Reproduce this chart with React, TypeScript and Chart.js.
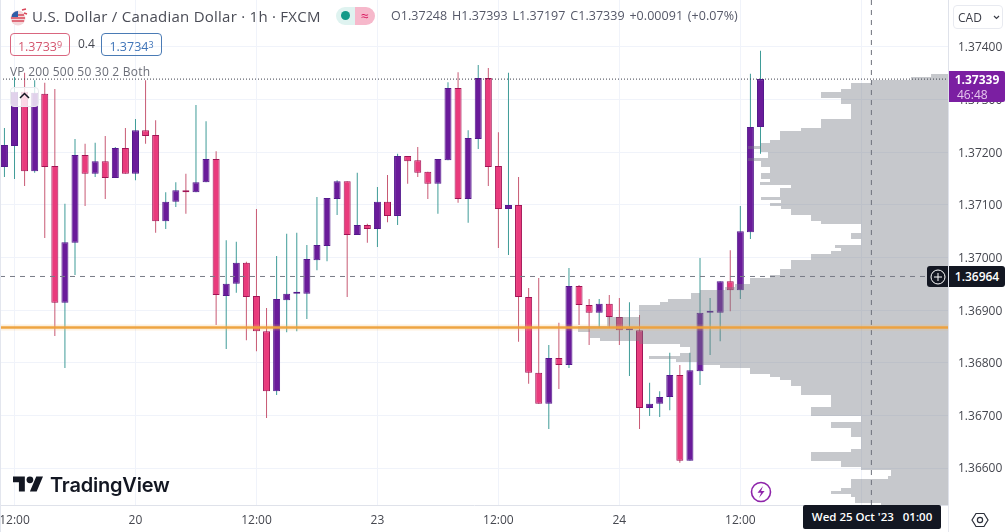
import React, { useEffect, useRef } from "react";
import { Chart, registerables } from "chart.js";

Chart.register(...registerables);

const opens = [1.37172,1.37212,1.37315,1.37164,1.37311,1.37174,1.36914,1.37028,1.37195,1.37159,1.37183,1.37151,1.37208,1.37159,1.37242,1.37233,1.37069,1.37106,1.37128,1.37124,1.37143,1.37187,1.36927,1.36950,1.36990,1.36927,1.36860,1.36746,1.36919,1.36931,1.36931,1.36995,1.37022,1.37111,1.37145,1.37043,1.37062,1.37054,1.37106,1.37079,1.37193,1.37185,1.37163,1.37140,1.37185,1.37322,1.37111,1.37225,1.37341,1.37174,1.37092,1.37100,1.36925,1.36781,1.36722,1.36809,1.36796,1.36946,1.36910,1.36895,1.36912,1.36887,1.36862,1.36862,1.36714,1.36722,1.36735,1.36777,1.36614,1.36784,1.36895,1.36895,1.36955,1.36938,1.37048,1.37248];
const highs = [1.37246,1.37343,1.37351,1.37337,1.37332,1.37320,1.37102,1.37225,1.37216,1.37218,1.37231,1.37210,1.37246,1.37263,1.37337,1.37261,1.37124,1.37143,1.37159,1.37290,1.37259,1.37202,1.37033,1.37030,1.36992,1.37092,1.36904,1.37003,1.37045,1.37047,1.37024,1.37115,1.37113,1.37147,1.37145,1.37161,1.37064,1.37134,1.37157,1.37197,1.37193,1.37210,1.37163,1.37187,1.37333,1.37352,1.37242,1.37366,1.37360,1.37238,1.37351,1.37153,1.36942,1.36961,1.36834,1.36876,1.36980,1.36948,1.36921,1.36921,1.36929,1.36923,1.36915,1.36891,1.36762,1.36746,1.36819,1.36796,1.36819,1.36999,1.36923,1.36955,1.37014,1.37098,1.37349,1.37393];
const lows = [1.37153,1.37149,1.37136,1.37161,1.37037,1.36851,1.36790,1.36967,1.37098,1.37153,1.37111,1.37151,1.37159,1.37147,1.37216,1.37047,1.37054,1.37096,1.37083,1.37124,1.37143,1.36872,1.36826,1.36933,1.36843,1.36822,1.36695,1.36739,1.36858,1.36860,1.36883,1.36976,1.36993,1.37081,1.36925,1.37043,1.37028,1.37020,1.37067,1.37062,1.37140,1.37153,1.37111,1.37083,1.37185,1.37104,1.37066,1.37206,1.37136,1.37018,1.37005,1.36840,1.36760,1.36722,1.36674,1.36750,1.36790,1.36872,1.36834,1.36866,1.36866,1.36834,1.36775,1.36674,1.36699,1.36697,1.36710,1.36610,1.36614,1.36758,1.36815,1.36841,1.36898,1.36921,1.37035,1.37197];
const closes = [1.37214,1.37315,1.37164,1.37313,1.37172,1.36914,1.37029,1.37195,1.37159,1.37183,1.37151,1.37208,1.37159,1.37242,1.37231,1.37069,1.37106,1.37128,1.37124,1.37143,1.37187,1.36929,1.36950,1.36990,1.36925,1.36860,1.36746,1.36921,1.36931,1.36932,1.36997,1.37024,1.37113,1.37145,1.37043,1.37062,1.37054,1.37106,1.37079,1.37193,1.37183,1.37161,1.37140,1.37187,1.37322,1.37111,1.37227,1.37341,1.37172,1.37092,1.37100,1.36925,1.36781,1.36722,1.36809,1.36796,1.36946,1.36910,1.36895,1.36912,1.36887,1.36862,1.36863,1.36714,1.36722,1.36735,1.36777,1.36614,1.36786,1.36895,1.36896,1.36955,1.36938,1.37050,1.37248,1.37339];

const profilePrices = [1.3734585,1.3734015,1.3733445,1.3732875,1.3732305,1.3731735,1.3731165,1.3730595,1.3730025,1.3729455,1.3728885,1.3728315,1.3727745,1.3727175,1.3726605,1.3726035,1.3725465,1.3724895,1.3724325,1.3723755,1.3723185,1.3722615,1.3722045,1.3721475,1.3720905,1.3720335,1.3719765,1.3719195,1.3718625,1.3718055,1.3717485,1.3716915,1.3716345,1.3715775,1.3715205,1.3714635,1.3714065,1.3713495,1.3712925,1.3712355,1.3711785,1.3711215,1.3710645,1.3710075,1.3709505,1.3708935,1.3708365,1.3707795,1.3707225,1.3706655,1.3706085,1.3705515,1.3704945,1.3704375,1.3703805,1.3703235,1.3702665,1.3702095,1.3701525,1.3700955,1.3700385,1.3699815,1.3699245,1.3698675,1.3698105,1.3697535,1.3696965,1.3696395,1.3695825,1.3695255,1.3694685,1.3694115,1.3693545,1.3692975,1.3692405,1.3691835,1.3691265,1.3690695,1.3690125,1.3689555,1.3688985,1.3688415,1.3687845,1.3687275,1.3686705,1.3686135,1.3685565,1.3684995,1.3684425,1.3683855,1.3683285,1.3682715,1.3682145,1.3681575,1.3681005,1.3680435,1.3679865,1.3679295,1.3678725,1.3678155,1.3677585,1.3677015,1.3676445,1.3675875,1.3675305,1.3674735,1.3674165,1.3673595,1.3673025,1.3672455,1.3671885,1.3671315,1.3670745,1.3670175,1.3669605,1.3669035,1.3668465,1.3667895,1.3667325,1.3666755,1.3666185,1.3665615,1.3665045,1.3664475,1.3663905,1.3663335,1.3662765,1.3662195,1.3661625,1.3661055,1.3660485,1.3659915,1.3659345,1.3658775,1.3658205,1.3657635,1.3657065,1.3656495,1.3655925,1.3655355,1.3654785,1.3654215,1.3653645,1.3653075];
const profileVolumes = [17,37,77,97,97,107,127,127,107,107,97,97,97,97,97,127,127,127,147,168,168,168,178,187,200,187,180,180,200,187,187,178,178,187,187,178,188,157,168,168,168,187,167,178,167,157,157,137,137,127,87,87,87,97,97,87,87,113,107,117,137,137,157,157,157,168,168,178,198,198,213,223,248,257,257,280,288,309,309,309,309,341,341,341,370,370,358,358,348,309,268,258,258,268,299,272,250,228,198,198,178,168,157,157,147,147,147,117,117,117,117,137,137,137,87,87,117,117,97,97,97,87,87,87,87,97,137,137,137,107,107,87,57,57,60,97,97,97,107,117,97,93,93,67];

const timeTickIndex = [1,13,25,37,49,61,73,85];
const timeTickLabels = ["12:00","20","12:00","23","12:00","24","12:00",""];
const priceTicks = [1.374,1.373,1.372,1.371,1.37,1.369,1.368,1.367,1.366];

const lastPrice = 1.37339;
const crossPrice = 1.36964;
const crossIndex = 86;
const levelPrice = 1.36867;
const priceMin = 1.365298;
const priceMax = 1.374893;
const indexMin = -0.44;
const indexMax = 93.6;

const FONT = '"Open Sans", "Noto Sans", sans-serif';

const abs = (x: number, y: number, extra: React.CSSProperties = {}): React.CSSProperties => ({
  position: "absolute", left: x, top: y, whiteSpace: "nowrap", fontFamily: FONT, ...extra,
});

const noPad = (s: any) => { s.paddingLeft = 0; s.paddingRight = 0; s.paddingTop = 0; s.paddingBottom = 0; };

export default function App() {
  const ref = useRef<HTMLCanvasElement | null>(null);
  useEffect(() => {
    if (!ref.current) return;
    const dir = closes.map((c, i) => c - opens[i]);
    const bodyFill = dir.map((d) => (Math.abs(d) <= 0.00001 ? "#20243a" : d >= 0 ? "#6a1b9a" : "#e93b7c"));
    const bodyEdge = dir.map((d) => (Math.abs(d) <= 0.00001 ? "#20243a" : d >= 0 ? "#531a8c" : "#a01455"));
    const wickFill = dir.map((d) => (d >= 0 ? "#3f9c98" : "#c85a74"));
    const span = (p: number) => [{ x: indexMin, y: p }, { x: indexMax, y: p }];
    const chart = new Chart(ref.current, {
      type: "bar",
      data: {
        datasets: [
          { type: "line", label: "level", data: span(levelPrice), borderColor: "rgba(238,160,58,0.95)", borderWidth: 2.6, pointRadius: 0, order: 0 },
          { type: "line", label: "level glow", data: span(levelPrice), borderColor: "rgba(245,185,100,0.22)", borderWidth: 6, pointRadius: 0, order: 1 },
          { type: "line", label: "cross x", data: [{ x: crossIndex, y: priceMin }, { x: crossIndex, y: priceMax }], borderColor: "#6f727d", borderWidth: 1, borderDash: [5, 5], pointRadius: 0, order: 2 },
          { type: "line", label: "cross y", data: span(crossPrice), borderColor: "#787b86", borderWidth: 1, borderDash: [5, 5], pointRadius: 0, order: 3 },
          { type: "line", label: "last", data: span(lastPrice), borderColor: "#3a3d48", borderWidth: 1, borderDash: [1, 2], pointRadius: 0, order: 4 },
          { type: "bar", label: "profile", indexAxis: "y", xAxisID: "xv", yAxisID: "y", grouped: false, inflateAmount: 0,
            data: profilePrices.map((p, i) => ({ x: profileVolumes[i], y: p })),
            backgroundColor: "rgba(120,123,134,0.42)", borderWidth: 0, barThickness: 3, order: 5 },
          { type: "bar", label: "body", grouped: false, inflateAmount: 0,
            data: opens.map((o, i) => ({ x: i, y: [o, closes[i]] })),
            backgroundColor: bodyFill, borderColor: bodyEdge, borderWidth: 1, borderSkipped: false, barThickness: 7, minBarLength: 2, order: 6 },
          { type: "bar", label: "wick", grouped: false, inflateAmount: 0,
            data: lows.map((l, i) => ({ x: i, y: [l, highs[i]] })),
            backgroundColor: wickFill, borderWidth: 0, barThickness: 1, order: 7 },
        ],
      } as any,
      options: {
        animation: false, responsive: false, events: [],
        layout: { padding: 0 },
        plugins: { legend: { display: false }, tooltip: { enabled: false } },
        scales: {
          x: {
            type: "linear", offset: false, min: indexMin, max: indexMax, position: "bottom",
            grid: { offset: false, color: "#f0f3fa", drawTicks: false, lineWidth: 1 },
            border: { color: "#dfe2ea" },
            afterBuildTicks: (s: any) => { s.ticks = timeTickIndex.map((v) => ({ value: v })); },
            afterFit: (s: any) => { s.height = 27; noPad(s); },
            ticks: {
              autoSkip: false, maxRotation: 0, padding: 8, color: "#45474f",
              font: { family: FONT, size: 12 },
              callback: (v: any) => { const i = timeTickIndex.indexOf(Number(v)); return i >= 0 ? timeTickLabels[i] : ""; },
            },
          },
          xv: { type: "linear", axis: "x", offset: false, display: false, reverse: true, min: 0, max: 948, grid: { offset: false, display: false }, afterFit: noPad },
          y: {
            type: "linear", offset: false, position: "right", min: priceMin, max: priceMax,
            grid: { offset: false, color: "#f0f3fa", drawTicks: false, lineWidth: 1 },
            border: { color: "#dfe2ea" },
            afterBuildTicks: (s: any) => { s.ticks = priceTicks.map((v) => ({ value: v })); },
            afterFit: (s: any) => { s.width = 60; noPad(s); },
            ticks: {
              padding: 10, color: "#45474f", font: { family: FONT, size: 12, lineHeight: "2px" },
              callback: (v: any) => ["", Number(v).toFixed(5)],
            },
          },
        },
      } as any,
    });
    return () => chart.destroy();
  }, []);

  return (
    <div style={{ position: "fixed", left: 0, top: 0, width: 1008, height: 532, background: "#fff", overflow: "hidden" }}>
      <canvas ref={ref} width={1008} height={532} style={{ display: "block", width: 1008, height: 532 }} />

      <div style={abs(0, 0, { width: 1, height: 532, background: "#e3e6ee" })} />
      <div style={abs(948, 505, { width: 1, height: 27, background: "#e6e8ef" })} />

      <svg style={abs(10, 8)} width="18" height="18" viewBox="0 0 18 18">
        <circle cx="8" cy="10" r="7.5" fill="#f3d7da" />
        <path d="M2 7h12M1 10h14M2 13h12" stroke="#d9485a" strokeWidth="1.6" />
        <path d="M1.5 9A7 7 0 0 1 8 3v6z" fill="#2f5fa8" />
        <path d="M12 2l4-1M14 5l3 1" stroke="#d9485a" strokeWidth="1.6" />
      </svg>
      <div style={abs(32, 6, { fontSize: 15, color: "#4a4c56", lineHeight: "20px", letterSpacing: 0.25 })}>U.S. Dollar / Canadian Dollar · 1h · FXCM</div>

      <div style={abs(336, 7, { width: 20, height: 18, background: "#dff3f0", borderRadius: "9px 0 0 9px" })} />
      <div style={abs(341, 11, { width: 9, height: 9, background: "#139a88", borderRadius: 5 })} />
      <div style={abs(355, 7, { width: 20, height: 18, background: "#f6b8cb", borderRadius: "0 9px 9px 0", color: "#d81b60", fontSize: 14, lineHeight: "17px", textAlign: "center" })}>≈</div>

      <div style={abs(391, 7, { fontSize: 12.5, color: "#555868", lineHeight: "18px", letterSpacing: 0.04, wordSpacing: 1.5 })}>O1.37248 H1.37393 L1.37197 C1.37339 +0.00091 (+0.07%)</div>

      <div style={abs(10, 33, { width: 58, height: 21, border: "1px solid #d9667f", borderRadius: 4, color: "#d4566f", fontSize: 12.5, lineHeight: "21px", textAlign: "center" })}>1.3733<span style={{ fontSize: 9, verticalAlign: 3 }}>9</span></div>
      <div style={abs(78, 36, { fontSize: 12, color: "#45474f", lineHeight: "16px" })}>0.4</div>
      <div style={abs(101, 33, { width: 59, height: 21, border: "1px solid #4a7bb5", borderRadius: 4, color: "#3f74b8", fontSize: 12.5, lineHeight: "21px", textAlign: "center" })}>1.3734<span style={{ fontSize: 9, verticalAlign: 3 }}>3</span></div>

      <div style={abs(10, 64, { fontSize: 12, color: "#6b6e78", lineHeight: "16px", letterSpacing: 0.22 })}>VP 200 500 50 30 2 Both</div>
      <div style={abs(10, 87, { width: 27, height: 18, border: "1px solid #e8e9ee", borderRadius: 4, background: "rgba(255,255,255,0.8)", boxSizing: "content-box" })} />
      <svg style={abs(19, 92)} width="11" height="7" viewBox="0 0 11 7"><path d="M1 6l4.5-4.5L10 6" fill="none" stroke="#131722" strokeWidth="1.5" /></svg>

      <div style={abs(953, 5, { width: 50, height: 24, border: "1px solid #e8eaf0", borderRadius: 4, color: "#3c3e48", fontSize: 12, lineHeight: "24px", paddingLeft: 4, boxSizing: "border-box" })}>CAD</div>
      <svg style={abs(993, 15)} width="7" height="5" viewBox="0 0 7 5"><path d="M1 1l2.5 2.5L6 1" fill="none" stroke="#3c3e48" strokeWidth="1.2" /></svg>

      <div style={abs(949, 71, { width: 56, height: 31, background: "#7b1fa2", borderRadius: "0 2px 2px 0", textAlign: "center", color: "#fff", paddingTop: 1, boxSizing: "border-box" })}>
        <div style={{ fontSize: 12, fontWeight: 700, lineHeight: "16px" }}>1.37339</div>
        <div style={{ fontSize: 12, lineHeight: "13px", color: "#e6c6ee", textAlign: "left", paddingLeft: 8 }}>46:48</div>
      </div>

      <div style={abs(927, 266, { width: 21, height: 21, background: "#131722", borderRadius: "3px 0 0 3px" })} />
      <svg style={abs(930, 269)} width="16" height="16" viewBox="0 0 16 16"><circle cx="8" cy="8" r="7" fill="none" stroke="#fff" strokeWidth="1" /><path d="M8 4v8M4 8h8" stroke="#fff" strokeWidth="1" /></svg>
      <div style={abs(949, 266, { width: 56, height: 21, background: "#131722", borderRadius: "0 3px 3px 0", color: "#fff", fontSize: 12, fontWeight: 600, lineHeight: "21px", textAlign: "center" })}>1.36964</div>

      <div style={abs(803, 505, { width: 138, height: 24, background: "#131722", borderRadius: 2, color: "#fff", fontSize: 11.5, fontWeight: 600, lineHeight: "24px", textAlign: "center", whiteSpace: "pre" })}>Wed 25 Oct '23   01:00</div>

      <svg style={abs(971, 511)} width="18" height="18" viewBox="0 0 18 18"><path d="M5 2.5h8L17 9l-4 6.5H5L1 9z" fill="none" stroke="#2a2e39" strokeWidth="1.2" /><circle cx="9" cy="9" r="2.6" fill="none" stroke="#2a2e39" strokeWidth="1.2" /></svg>

      <svg style={abs(750, 481)} width="22" height="22" viewBox="0 0 22 22"><circle cx="11" cy="11" r="9.5" fill="#fff" stroke="#8e24aa" strokeWidth="1.6" /><path d="M13 5l-5.5 6.8h3.6L9 17l5.6-7h-3.5z" fill="#8e24aa" /></svg>

      <svg style={abs(13, 476)} width="30" height="16" viewBox="0 4 35.5 18"><path d="M14 22H7V11H0V4h14v18zM28 22h-8l7.5-18h8L28 22z" fill="#131722" /><circle cx="20" cy="8" r="4" fill="#131722" /></svg>
      <div style={abs(50, 472, { fontFamily: 'Inter, "Noto Sans", sans-serif', fontSize: 20, fontWeight: 600, color: "#131722", lineHeight: "26px", letterSpacing: -0.2 })}>TradingView</div>
    </div>
  );
}
